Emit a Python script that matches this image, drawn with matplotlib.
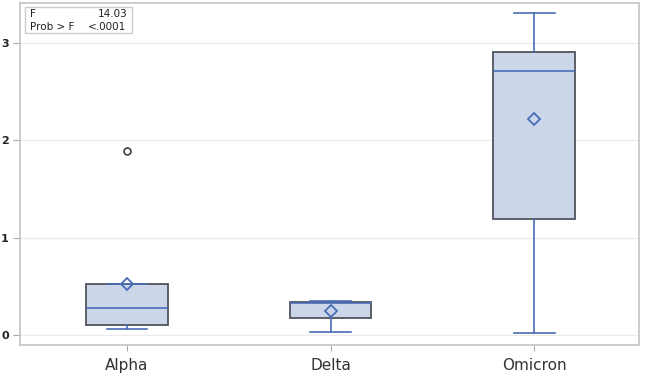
import numpy as np
import matplotlib.pyplot as plt
from matplotlib.patches import Rectangle

groups = ['Alpha', 'Delta', 'Omicron']
whislo = [0.06, 0.03, 0.02]
q1 = [0.10, 0.175, 1.19]
med = [0.28, 0.33, 2.71]
q3 = [0.53, 0.34, 2.91]
whishi = [0.53, 0.35, 3.31]
means = [0.52, 0.25, 2.22]
fliers = [[1.89], [], []]

fig = plt.figure(figsize=(6.45, 3.76), dpi=100)
ax = fig.add_axes([0.031, 0.082, 0.96, 0.91])

stats = []
for i in range(len(groups)):
    stats.append(dict(label=groups[i], whislo=whislo[i], q1=q1[i], med=med[i],
                      q3=q3[i], whishi=whishi[i], mean=means[i], fliers=fliers[i]))

blue = '#4a6db5'
ax.bxp(stats, positions=[1, 2, 3], widths=0.4, capwidths=0.2, patch_artist=True,
       showmeans=True,
       boxprops=dict(facecolor='#cbd6e8', edgecolor='#50545c', linewidth=1.3),
       medianprops=dict(color=blue, linewidth=1.2),
       whiskerprops=dict(color=blue, linewidth=1.2),
       capprops=dict(color=blue, linewidth=1.2),
       meanprops=dict(marker='D', markerfacecolor='none', markeredgecolor=blue,
                      markersize=6.5, markeredgewidth=1.3),
       flierprops=dict(marker='o', markerfacecolor='none', markeredgecolor='#404040',
                       markersize=5, markeredgewidth=1.2))

ax.set_xlim(0.474, 3.516)
ax.set_ylim(-0.103, 3.41)
ax.set_yticks([0, 1, 2, 3])
ax.set_yticklabels(['0', '1', '2', '3'], fontsize=8, fontweight='bold', color='#222222')
ax.set_xticks([1, 2, 3])
ax.set_xticklabels(groups, fontsize=11, color='#333333')
ax.tick_params(axis='y', length=5, color='#aaaaaa', pad=3)
ax.tick_params(axis='x', length=4, color='#aaaaaa', pad=5)
ax.grid(axis='y', color='#ececec', linewidth=1)
ax.set_axisbelow(True)
for s in ax.spines.values():
    s.set_color('#c4c4c4')
    s.set_linewidth(1.2)

# stats box
ax.add_patch(Rectangle((0.008, 0.912), 0.173, 0.076, transform=ax.transAxes,
                       facecolor='white', edgecolor='#cccccc', linewidth=1, zorder=5))
ax.text(0.016, 0.968, 'F', transform=ax.transAxes, fontsize=7.5,
        va='center', ha='left', color='#222222', zorder=6)
ax.text(0.016, 0.930, 'Prob > F', transform=ax.transAxes, fontsize=7.5,
        va='center', ha='left', color='#222222', zorder=6)
ax.text(0.173, 0.968, '14.03', transform=ax.transAxes, fontsize=7.5,
        va='center', ha='right', color='#222222', zorder=6)
ax.text(0.171, 0.930, '<.0001', transform=ax.transAxes, fontsize=7.5,
        va='center', ha='right', color='#222222', zorder=6)

fig.savefig('out.png', dpi=100)
